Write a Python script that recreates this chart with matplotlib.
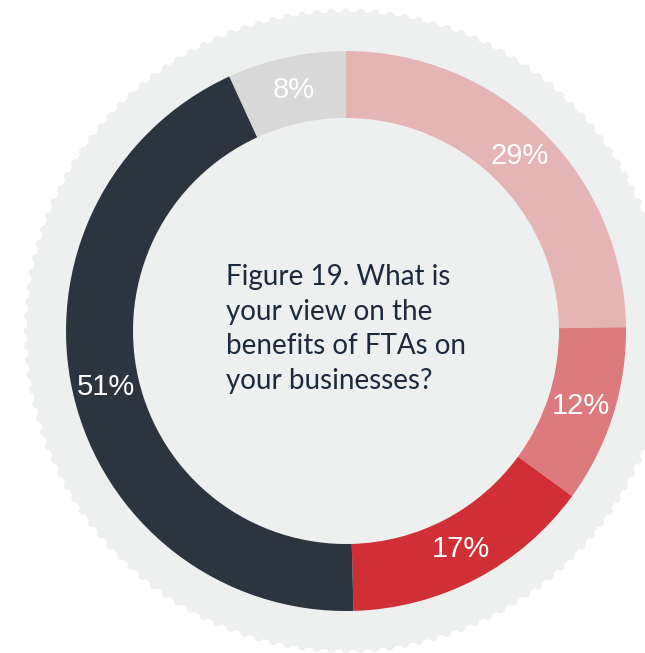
import numpy as np
import matplotlib
matplotlib.use("Agg")
import matplotlib.pyplot as plt
from matplotlib.patches import Circle

# Survey responses (shares as reported)
values = [29, 12, 17, 51, 8]
labels = ["29%", "12%", "17%", "51%", "8%"]
colors = ["#E5B4B5", "#DC7A7D", "#D02F36", "#2C3440", "#D8D8D8"]
title_lines = ["Figure 19. What is", "your view on the", "benefits of FTAs on", "your businesses?"]

W, H = 645, 653
fig = plt.figure(figsize=(W / 100, H / 100), dpi=100)
ax = fig.add_axes([0, 0, 1, 1])
ax.set_xlim(0, W)
ax.set_ylim(0, H)
ax.set_aspect("equal")
ax.axis("off")

cx, cy = 346, H - 331
bg = "#EEF0EF"

# Scalloped background disc
R_base = 319
n_bumps = 136
bump_r = 4.4
ax.add_patch(Circle((cx, cy), R_base, color=bg, lw=0, zorder=0))
for t in np.linspace(0, 2 * np.pi, n_bumps, endpoint=False):
    ax.add_patch(Circle((cx + (R_base - 1) * np.cos(t), cy + (R_base - 1) * np.sin(t)),
                        bump_r, color=bg, lw=0, zorder=0))

# Donut ring
R_out = 280
ring = 67
wedges, texts = ax.pie(values, labels=labels, colors=colors, startangle=90,
                       counterclock=False, radius=R_out, center=(cx, cy),
                       labeldistance=(R_out - ring / 2) / R_out,
                       wedgeprops=dict(width=ring, linewidth=0),
                       textprops=dict(color="white", fontsize=21,
                                      family="Liberation Sans",
                                      ha="center", va="center"),
                       frame=True)
ax.set_xlim(0, W)
ax.set_ylim(0, H)
ax.axis("off")
for t in texts:
    t.set_horizontalalignment("center")
    t.set_verticalalignment("center")

# Question text in the middle of the ring
baselines = [285, 320, 354, 389]
for line, yb in zip(title_lines, baselines):
    ax.text(226, H - yb, line, ha="left", va="baseline", fontsize=20,
            family="Lato", color="#1C2A3C")

fig.savefig("out.png", dpi=100)
